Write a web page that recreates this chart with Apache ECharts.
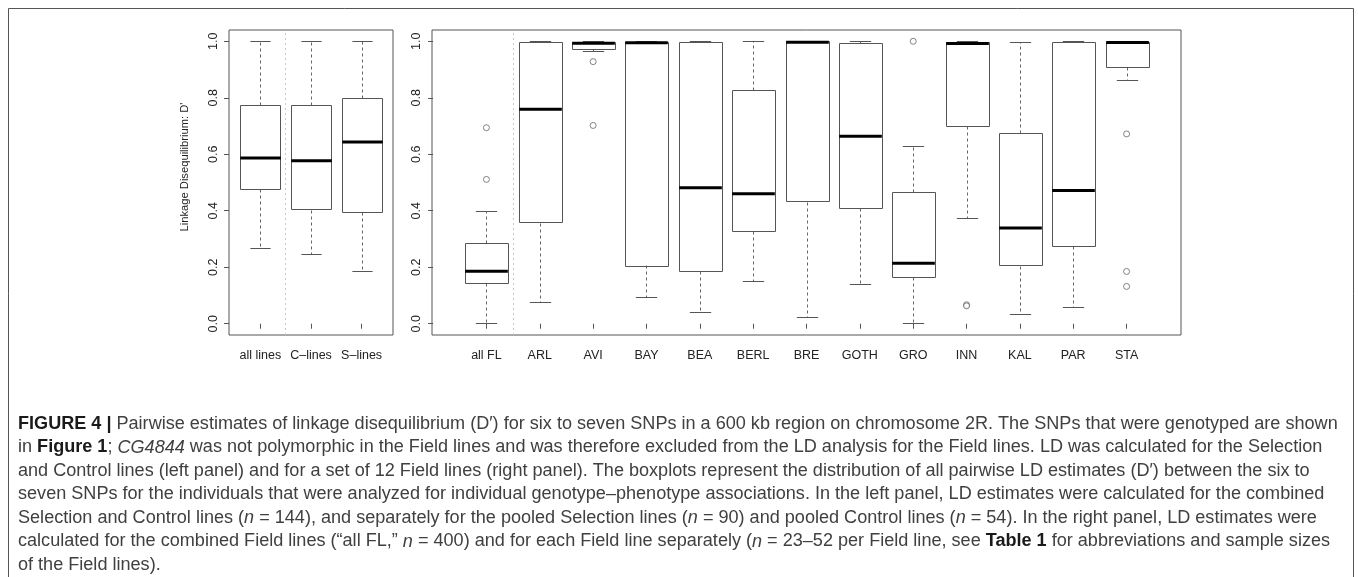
<!DOCTYPE html>
<html>
<head>
<meta charset="utf-8">
<script src="https://cdn.jsdelivr.net/npm/echarts@6/dist/echarts.min.js"></script>
<style>
html,body{margin:0;padding:0;background:#fff;}
#c{width:1358px;height:577px;}
</style>
</head>
<body>
<div id="c"></div>
<script>
// ---------- data ----------
const leftCats = ['all lines', 'C\u2013lines', 'S\u2013lines'];
const leftMin = [0.267, 0.248, 0.188];
const leftQ1  = [0.477, 0.404, 0.397];
const leftMed = [0.587, 0.577, 0.643];
const leftQ3  = [0.773, 0.773, 0.799];
const leftMax = [1.000, 1.000, 1.000];

const rightCats = ['all FL', 'ARL', 'AVI', 'BAY', 'BEA', 'BERL', 'BRE', 'GOTH', 'GRO', 'INN', 'KAL', 'PAR', 'STA'];
const rightMin = [0.004, 0.078, 0.965, 0.093, 0.043, 0.151, 0.022, 0.140, 0.002, 0.373, 0.034, 0.060, 0.863];
const rightQ1  = [0.143, 0.358, 0.974, 0.207, 0.187, 0.328, 0.432, 0.411, 0.166, 0.700, 0.205, 0.275, 0.909];
const rightMed = [0.186, 0.759, 0.993, 0.995, 0.481, 0.460, 0.997, 0.664, 0.214, 0.992, 0.339, 0.472, 0.996];
const rightQ3  = [0.286, 0.997, 0.999, 0.999, 0.997, 0.826, 1.000, 0.995, 0.467, 0.997, 0.674, 0.998, 0.997];
const rightMax = [0.400, 1.000, 1.000, 1.000, 1.000, 1.000, 1.000, 1.000, 0.631, 1.000, 0.998, 1.000, 1.000];
const rightOutliers = [[0.694, 0.511], [], [0.928, 0.702], [], [], [], [], [], [1.000], [0.067, 0.063], [], [], [0.672, 0.185, 0.132]];

const yTicks = [0.0, 0.2, 0.4, 0.6, 0.8, 1.0];
const yTitle = "Linkage Disequilibrium: D'";

const captionLines = [
  '{b|FIGURE 4 |} Pairwise estimates of linkage disequilibrium (D\u2032) for six to seven SNPs in a 600 kb region on chromosome 2R. The SNPs that were genotyped are shown',
  'in {b|Figure 1}; {i|CG4844} was not polymorphic in the Field lines and was therefore excluded from the LD analysis for the Field lines. LD was calculated for the Selection',
  'and Control lines (left panel) and for a set of 12 Field lines (right panel). The boxplots represent the distribution of all pairwise LD estimates (D\u2032) between the six to',
  'seven SNPs for the individuals that were analyzed for individual genotype\u2013phenotype associations. In the left panel, LD estimates were calculated for the combined',
  'Selection and Control lines ({i|n} = 144), and separately for the pooled Selection lines ({i|n} = 90) and pooled Control lines ({i|n} = 54). In the right panel, LD estimates were',
  'calculated for the combined Field lines (\u201call FL,\u201d {i|n} = 400) and for each Field line separately ({i|n} = 23\u201352 per Field line, see {b|Table 1} for abbreviations and sample sizes',
  'of the Field lines).'
];

// ---------- build ----------
const FONT = '"Liberation Sans", Arial, Helvetica, sans-serif';
const CAP_FONT = '"Liberation Sans", Arial, Helvetica, sans-serif';

function boxData(mins, q1, med, q3, maxs) {
  return mins.map((m, i) => [i + 1, m, q1[i], med[i], q3[i], maxs[i]]);
}
function outlierData(list) {
  const out = [];
  list.forEach((arr, i) => arr.forEach(v => out.push([i + 1, v])));
  return out;
}

function renderBox(params, api) {
  const x = api.value(0);
  const lo = api.coord([x, api.value(1)]);
  const q1 = api.coord([x, api.value(2)]);
  const md = api.coord([x, api.value(3)]);
  const q3 = api.coord([x, api.value(4)]);
  const hi = api.coord([x, api.value(5)]);
  const hb = api.size([0.8, 0])[0] / 2;
  const hc = api.size([0.4, 0])[0] / 2;
  const r = v => Math.round(v) + 0.5;
  const cx = r(lo[0]);
  const whisk = { stroke: '#666', lineWidth: 1, lineDash: [3, 3] };
  const solid = { stroke: '#555', lineWidth: 1 };
  return {
    type: 'group',
    children: [
      { type: 'line', shape: { x1: cx, y1: r(q3[1]), x2: cx, y2: r(hi[1]) }, style: whisk },
      { type: 'line', shape: { x1: cx, y1: r(q1[1]), x2: cx, y2: r(lo[1]) }, style: whisk },
      { type: 'line', shape: { x1: cx - hc, y1: r(hi[1]), x2: cx + hc, y2: r(hi[1]) }, style: solid },
      { type: 'line', shape: { x1: cx - hc, y1: r(lo[1]), x2: cx + hc, y2: r(lo[1]) }, style: solid },
      { type: 'rect', shape: { x: r(cx - hb), y: r(q3[1]), width: Math.round(2 * hb), height: Math.max(1, Math.round(q1[1] - q3[1])) },
        style: { fill: 'none', stroke: '#555', lineWidth: 1 } },
      { type: 'line', shape: { x1: cx - hb, y1: md[1], x2: cx + hb, y2: md[1] }, style: { stroke: '#000', lineWidth: 3 } }
    ]
  };
}

function xAxisCfg(gi, cats, min, max) {
  const vals = cats.map((c, i) => i + 1);
  return {
    type: 'value', gridIndex: gi, min: min, max: max,
    splitLine: { show: false },
    axisLine: { show: false },
    axisTick: { show: true, customValues: vals, length: 5, lineStyle: { color: '#555', width: 1 } },
    axisLabel: { customValues: vals, formatter: v => cats[Math.round(v) - 1], color: '#222',
      fontSize: 12.5, fontFamily: FONT, margin: 14 }
  };
}
function yAxisCfg(gi) {
  return {
    type: 'value', gridIndex: gi, min: -0.04, max: 1.04,
    splitLine: { show: false },
    axisLine: { show: false },
    axisTick: { show: true, customValues: yTicks, length: 5, lineStyle: { color: '#555', width: 1 } },
    axisLabel: { customValues: yTicks, rotate: 90, formatter: v => v.toFixed(1), color: '#222',
      fontSize: 12.5, fontFamily: FONT, margin: 9 }
  };
}

const sepLine = {
  silent: true, symbol: ['none', 'none'], label: { show: false },
  lineStyle: { color: '#c8c8c8', type: [2, 3], width: 1 },
  emphasis: { disabled: true },
  data: [{ xAxis: 1.5 }]
};

// caption font size fitted to the line width seen in the reference
const mctx = document.createElement('canvas').getContext('2d');
function textW(font, t) { mctx.font = font; return mctx.measureText(t).width; }
const baseSz = 16;
const w1 = textW('bold ' + baseSz + 'px ' + CAP_FONT, 'FIGURE 4 |') +
  textW(baseSz + 'px ' + CAP_FONT, ' Pairwise estimates of linkage disequilibrium (D\u2032) for six to seven SNPs in a 600 kb region on chromosome 2R. The SNPs that were genotyped are shown');
const capSize = Math.max(15, Math.min(19, baseSz * 1320 / w1));

const graphics = [
  { type: 'rect', shape: { x: 8.5, y: 8.5, width: 1345, height: 640 }, style: { fill: 'none', stroke: '#555', lineWidth: 1 }, silent: true },
  { type: 'text', x: 185, y: 167, rotation: Math.PI / 2,
    style: { text: yTitle, fontSize: 11.2, fontFamily: FONT, fill: '#222', align: 'center', verticalAlign: 'middle' } }
];
captionLines.forEach((t, k) => {
  graphics.push({
    type: 'text', x: 18, y: 424 + k * 23.5,
    style: {
      text: t, fontSize: capSize, fontFamily: CAP_FONT, fill: '#404040', verticalAlign: 'middle',
      rich: {
        b: { fontWeight: 'bold', fontSize: capSize, fontFamily: CAP_FONT, fill: '#1a1a1a' },
        i: { fontStyle: 'italic', fontSize: capSize, fontFamily: CAP_FONT, fill: '#404040' }
      }
    }
  });
});

const chart = echarts.init(document.getElementById('c'), null, { renderer: 'canvas' });
chart.setOption({
  animation: false,
  backgroundColor: '#fff',
  grid: [
    { left: 229, top: 30, width: 164, height: 305, show: true, borderColor: '#555', borderWidth: 1, backgroundColor: 'transparent' },
    { left: 432, top: 30, width: 749, height: 305, show: true, borderColor: '#555', borderWidth: 1, backgroundColor: 'transparent' }
  ],
  xAxis: [
    xAxisCfg(0, leftCats, 0.38, 3.62),
    xAxisCfg(1, rightCats, -0.02, 14.02)
  ],
  yAxis: [yAxisCfg(0), yAxisCfg(1)],
  series: [
    { type: 'custom', name: 'left', xAxisIndex: 0, yAxisIndex: 0, renderItem: renderBox,
      encode: { x: 0, y: [1, 2, 3, 4, 5] }, data: boxData(leftMin, leftQ1, leftMed, leftQ3, leftMax), markLine: sepLine },
    { type: 'custom', name: 'right', xAxisIndex: 1, yAxisIndex: 1, renderItem: renderBox,
      encode: { x: 0, y: [1, 2, 3, 4, 5] }, data: boxData(rightMin, rightQ1, rightMed, rightQ3, rightMax), markLine: sepLine },
    { type: 'scatter', name: 'outliers', xAxisIndex: 1, yAxisIndex: 1, symbol: 'circle', symbolSize: 6,
      itemStyle: { color: '#fff', borderColor: '#555', borderWidth: 0.9 }, data: outlierData(rightOutliers) }
  ],
  graphic: graphics
});
</script>
</body>
</html>
